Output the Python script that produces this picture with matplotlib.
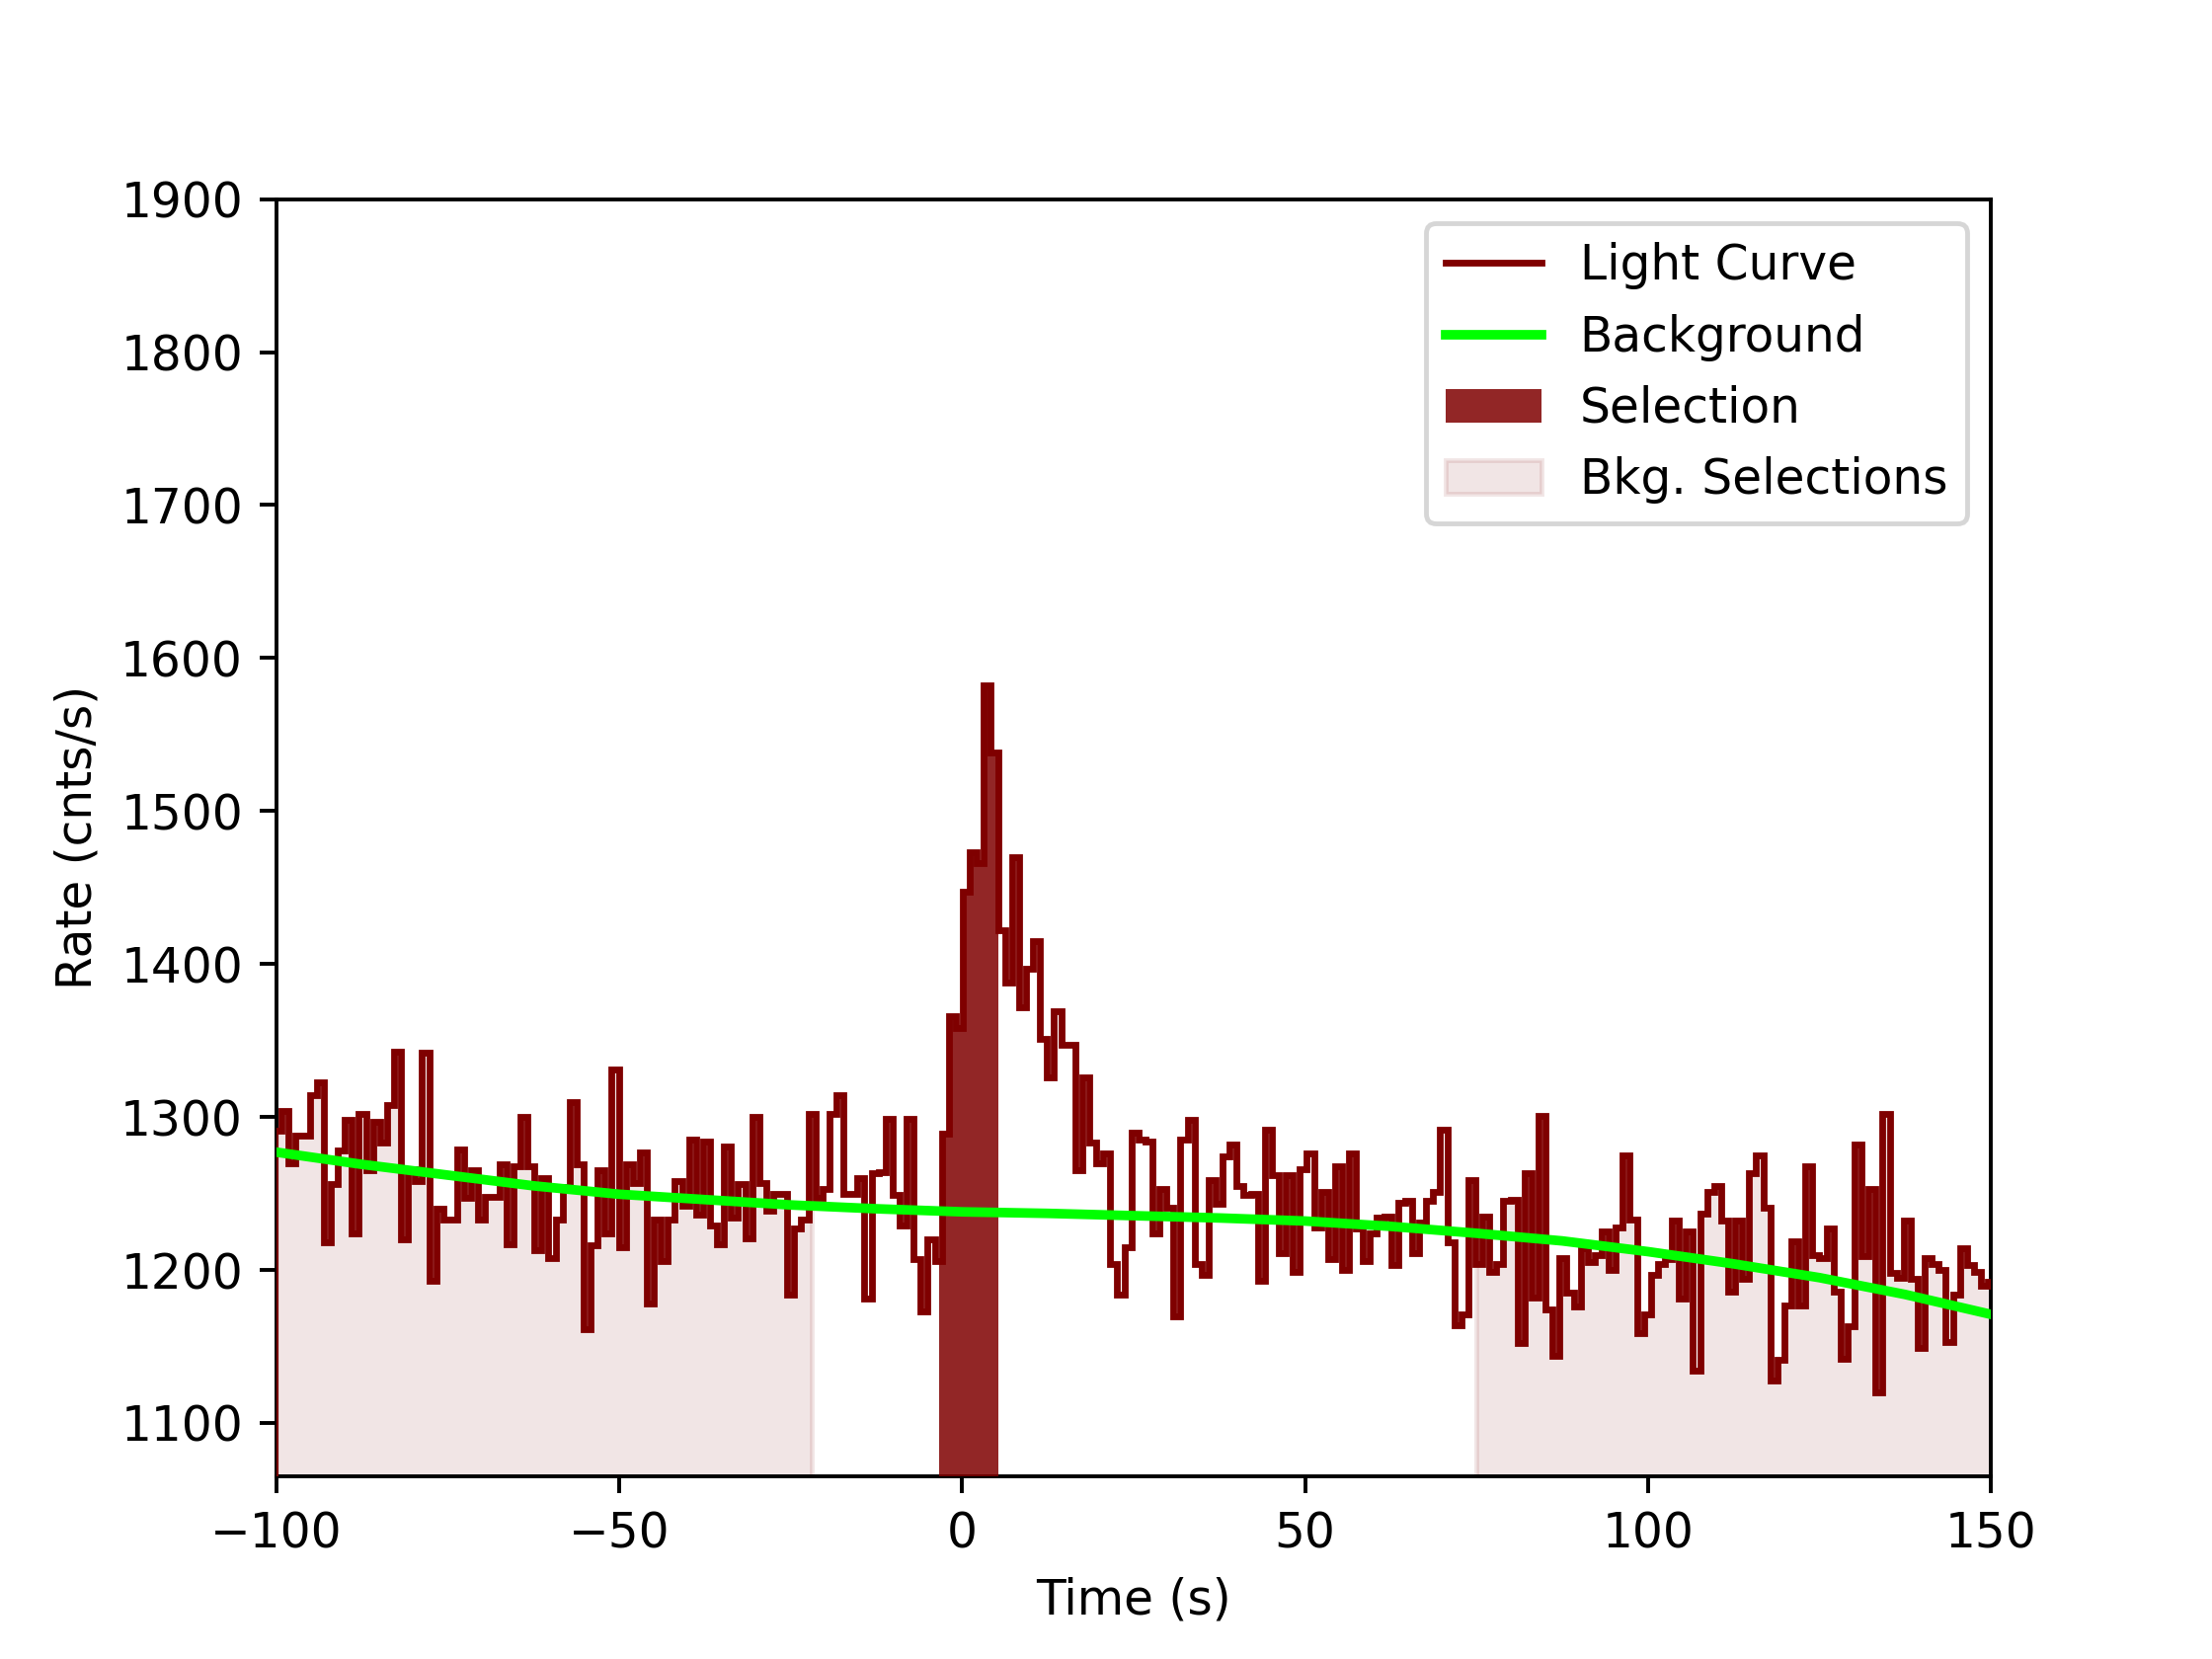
import numpy as np
import matplotlib.pyplot as plt
from matplotlib.lines import Line2D
from matplotlib.patches import Patch


# light curve, 1.024 s bins
t_start = -100.27
bin_width = 1.024

rate = [1291, 1304, 1270, 1288, 1288, 1314, 1323, 1218, 1256, 1278, 1298, 1224, 1302, 1265,
        1297, 1283, 1308, 1343, 1220, 1266, 1258, 1342, 1193, 1240, 1233, 1233, 1279, 1247,
        1265, 1233, 1248, 1248, 1269, 1217, 1268, 1300, 1268, 1213, 1260, 1208, 1233,
        1254, 1310, 1269, 1161, 1216, 1265, 1224, 1331, 1215, 1269, 1257, 1277, 1178, 1233,
        1206, 1233, 1258, 1242, 1285, 1236, 1284, 1229, 1217, 1281, 1234, 1256, 1221, 1300,
        1257, 1239, 1250, 1250, 1184, 1227, 1233, 1302, 1247, 1253, 1302, 1314, 1250,
        1250, 1260, 1181, 1263, 1264, 1299, 1249, 1229, 1299, 1207, 1173, 1220, 1206, 1289,
        1366, 1358, 1447, 1473, 1466, 1582, 1538, 1422, 1388, 1470, 1372, 1397, 1415, 1351,
        1326, 1369, 1347, 1347, 1265, 1326, 1283, 1270, 1276, 1204, 1184, 1215,
        1290, 1285, 1284, 1224, 1253, 1241, 1170, 1285, 1298, 1204, 1197, 1259, 1243, 1274,
        1282, 1255, 1249, 1250, 1193, 1292, 1262, 1211, 1262, 1199, 1266, 1276, 1228, 1251,
        1207, 1268, 1200, 1276, 1227, 1206, 1224, 1234, 1235, 1203, 1244, 1245, 1211,
        1231, 1245, 1251, 1292, 1218, 1164, 1171, 1259, 1204, 1235, 1199, 1204, 1245, 1246,
        1152, 1263, 1182, 1301, 1174, 1144, 1208, 1185, 1176, 1214, 1205, 1210, 1225, 1200,
        1228, 1275, 1233, 1159, 1171, 1197, 1204, 1207, 1232, 1181, 1225, 1134,
        1237, 1251, 1255, 1232, 1186, 1232, 1194, 1263, 1275, 1241, 1128, 1141, 1177, 1219,
        1177, 1268, 1210, 1208, 1227, 1186, 1142, 1163, 1282, 1209, 1253, 1120, 1302, 1198,
        1195, 1232, 1194, 1149, 1208, 1204, 1200, 1153, 1184, 1214, 1203, 1199, 1190, 1192]

# background model
bkg_time = [-100, -87.5, -75, -62.5, -50, -37.5, -25, -12.5, 0, 12.5, 25, 37.5, 50,
            62.5, 75, 87.5, 100, 112.5, 125, 137.5, 150]
bkg_rate = [1277, 1269, 1262, 1255, 1249.5, 1246, 1242.5, 1240, 1238, 1237, 1235.5, 1234, 1232,
            1228.5, 1224, 1219, 1212, 1204, 1195, 1184, 1171]

src_sel = (-3.35, 5.3)
bkg_sels = [(-100.0, -21.9), (74.9, 150.0)]

rate = np.array(rate, dtype=float)
edges = t_start + bin_width * np.arange(len(rate) + 1)

lc_color = "#7F0000"
lc_lw = 1.4


def fill_steps(ax, lo, hi, **kw):
    m = (edges[:-1] < hi) & (edges[1:] > lo)
    x = np.clip(edges[:-1][m], lo, hi)
    y = rate[m]
    x = np.append(x, hi)
    y = np.append(y, y[-1])
    ax.fill_between(x, y, 0, step="post", **kw)


fig, ax = plt.subplots(figsize=(6.4, 4.8), dpi=350)

for lo, hi in bkg_sels:
    fill_steps(ax, lo, hi, color=lc_color, alpha=0.1, zorder=2)
fill_steps(ax, src_sel[0], src_sel[1], color=lc_color, alpha=0.85, lw=0, zorder=3)

ax.stairs(rate, edges, color=lc_color, lw=lc_lw, zorder=4)
ax.plot(bkg_time, bkg_rate, color="#00FF00", lw=2.0, zorder=5)

ax.set_xlim(-100, 150)
ax.set_ylim(1065, 1900)
ax.set_xlabel("Time (s)")
ax.set_ylabel("Rate (cnts/s)")

handles = [Line2D([], [], color=lc_color, lw=lc_lw),
           Line2D([], [], color="#00FF00", lw=2.0),
           Patch(color=lc_color, alpha=0.85, lw=0),
           Patch(color=lc_color, alpha=0.1)]
ax.legend(handles, ["Light Curve", "Background", "Selection", "Bkg. Selections"],
          loc="upper right")

plt.savefig("out.png")
